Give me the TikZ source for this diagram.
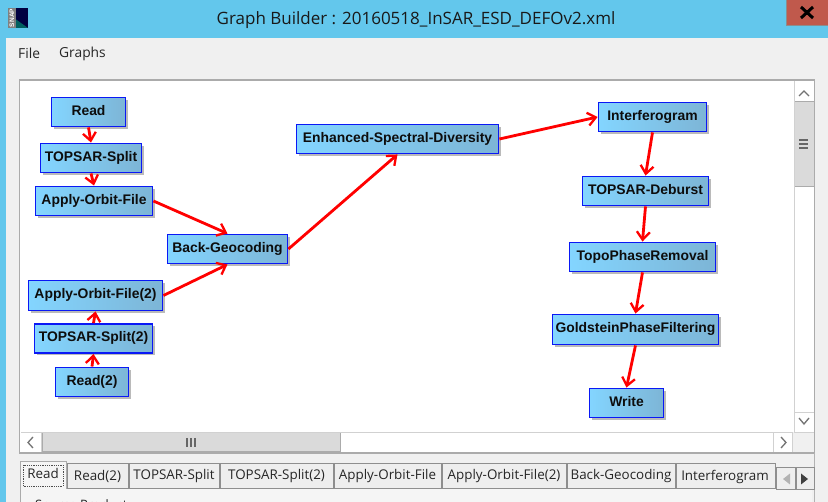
\documentclass[tikz,border=0pt]{standalone}
\usepackage{fontspec}
\setmainfont{Liberation Sans}
\newfontfamily\uifont{Open Sans}
\usetikzlibrary{arrows.meta,shadows}
\definecolor{titlebar}{HTML}{63C7EC}
\definecolor{winbg}{HTML}{F0F0F0}
\definecolor{closebtn}{HTML}{C0594C}
\definecolor{framegray}{HTML}{ABABAB}
\definecolor{thumbgray}{HTML}{DADADA}
\definecolor{tabgray}{HTML}{8E8E8E}
\definecolor{tabfill}{HTML}{EEEEEE}
\definecolor{opleft}{HTML}{83D5FF}
\definecolor{opright}{HTML}{7DB5D6}
\definecolor{opedge}{HTML}{0A18F5}
\tikzset{
  opbox/.style={draw=opedge,line width=1.9pt,left color=opleft,right color=opright,
    inner sep=0pt,text height=10pt,text depth=3.2pt,align=center,
    font=\fontsize{13.9}{15}\selectfont\bfseries,text=black!95,
    drop shadow={shadow xshift=2.4pt,shadow yshift=-2.4pt,fill=black!45,opacity=.6}},
  flow/.style={draw=red,line width=2.8pt,-{Straight Barb[length=8pt,width=13pt,line width=2.3pt]}},
  tabbox/.style={draw=tabgray,line width=1pt,fill=tabfill},
  tablabel/.style={font=\uifont\fontsize{13.4}{15}\selectfont,text=black!85,inner sep=0pt},
  uilabel/.style={font=\uifont\fontsize{13.8}{16}\selectfont,text=black!85,inner sep=0pt},
  chev/.style={draw=black!55,line width=1.3pt},
}
\begin{document}
\begin{tikzpicture}[x=1pt,y=-1pt]
\useasboundingbox (0,0) rectangle (828,502);
% window
\fill[titlebar] (0,0) rectangle (828,502);
\fill[winbg] (6,38) rectangle (828,502);
\fill[closebtn] (786,0) rectangle (828,25);
\draw[black!45,line width=.7pt] (786,0) -- (786,25) -- (828,25);
\draw[black,line width=3pt] (801,7) -- (813,18) (813,7) -- (801,18);
% app icon
\fill[black!75!blue] (8,8) rectangle (28,28);
\fill[black!25!teal] (14,28) -- (14,18) -- (28,28) -- cycle;
\fill[black!50] (8,8) rectangle (16,28);
\node[rotate=90,font=\fontsize{6.5}{6.5}\selectfont\bfseries,text=white,inner sep=0pt] (iconlabel) at (12,18) {SNAP};
\node[font=\uifont\fontsize{17}{18}\selectfont,text=black!90,inner sep=0pt] (title) at (416,20) {Graph Builder : 20160518\_InSAR\_ESD\_DEFOv2.xml};
\node[uilabel,anchor=west] (menufile) at (18,53.5) {File};
\node[uilabel,anchor=west] (menugraphs) at (59,53.5) {Graphs};
% canvas frame
\fill[white] (19,80) rectangle (815,453);
\fill[winbg] (793,432) rectangle (815,453);
\draw[framegray,line width=1.6pt] (19.5,80) rectangle (814.5,453);
% vertical scrollbar
\fill[thumbgray] (794,102) rectangle (814,187);
\draw[framegray,line width=1pt] (794,102) rectangle (814,187);
\draw[black!18,line width=.8pt] (794,81) -- (794,432) -- (814,432);
\draw[black!18,line width=.8pt] (794,412) -- (814,412);
\draw[chev] (799,96) -- (804,91) -- (809,96);
\draw[chev] (799,418) -- (804,424) -- (809,418);
\draw[black!60,line width=1.2pt] (799,140) -- (808,140) (799,144) -- (808,144) (799,148) -- (808,148);
% horizontal scrollbar
\fill[thumbgray] (42,433) rectangle (340,452);
\draw[framegray,line width=1pt] (42,433) rectangle (340,452);
\draw[black!18,line width=.8pt] (21,432.5) -- (793,432.5);
\draw[black!18,line width=.8pt] (41,433) -- (41,452) (773,433) -- (773,452) (792,433) -- (792,452);
\draw[chev] (33,437) -- (28,442.5) -- (33,448);
\draw[chev] (781,437) -- (786,442.5) -- (781,448);
\draw[black!60,line width=1.2pt] (187,438) -- (187,447) (191,438) -- (191,447) (195,438) -- (195,447);
% tabs
\fill[white!96!black] (21,489) rectangle (812,502);
\draw[black!30,line width=.8pt] (814.5,453) -- (814.5,502);
\draw[tabbox] (67,464) rectangle (128,489);
\draw[tabbox] (129,464) rectangle (219,489);
\draw[tabbox] (220,464) rectangle (333,489);
\draw[tabbox] (334,464) rectangle (441,489);
\draw[tabbox] (442,464) rectangle (566,489);
\draw[tabbox] (567,464) rectangle (675,489);
\draw[tabbox] (676,464) rectangle (775,489);
\fill[white!96!black] (20,462) rectangle (66,489);
\draw[framegray,line width=1pt] (20,502) -- (20,462) -- (66,462) -- (66,489);
\draw[black!70,line width=.8pt,densely dotted] (23,465) rectangle (63,486);
\node[tablabel] (tread) at (43,473.5) {Read};
\node[tablabel] (tread2) at (97.5,476.5) {Read(2)};
\node[tablabel] (tsplit) at (174,476.5) {TOPSAR-Split};
\node[tablabel] (tsplit2) at (276.5,476.5) {TOPSAR-Split(2)};
\node[tablabel] (torbit) at (387.5,476.5) {Apply-Orbit-File};
\node[tablabel] (torbit2) at (504,476.5) {Apply-Orbit-File(2)};
\node[tablabel] (tback) at (621,476.5) {Back-Geocoding};
\node[tablabel] (tinter) at (725,476.5) {Interferogram};
% tab arrows
\draw[tabgray,fill=tabfill,line width=1pt] (776,468) rectangle (795,490);
\draw[tabgray,fill=tabfill,line width=1pt] (796,468) rectangle (814,490);
\fill[black!30] (790,473.5) -- (783,479) -- (790,484.5) -- cycle;
\fill[black!75] (801,473.5) -- (808,479) -- (801,484.5) -- cycle;
% source product group (cut off by the page edge)
\node[tablabel,anchor=west] (srcprod) at (35,505) {\fontsize{13}{15}\selectfont Source Product};
% operators
\node[opbox,minimum width=74pt,minimum height=29pt] (read) at (88.5,112) {Read};
\node[opbox,minimum width=101pt,minimum height=29pt] (split) at (91,158) {TOPSAR-Split};
\node[opbox,minimum width=117pt,minimum height=29pt] (orbit) at (94,201) {Apply-Orbit-File};
\node[opbox,minimum width=120pt,minimum height=29pt] (back) at (227.5,249) {Back-Geocoding};
\node[opbox,minimum width=134pt,minimum height=30pt] (orbit2) at (95.5,295.5) {Apply-Orbit-File(2)};
\node[opbox,minimum width=118pt,minimum height=29pt] (split2) at (93.5,338.5) {TOPSAR-Split(2)};
\node[opbox,minimum width=73pt,minimum height=29pt] (read2) at (92,382) {Read(2)};
\node[opbox,minimum width=202pt,minimum height=29pt] (esd) at (397.5,139) {Enhanced-Spectral-Diversity};
\node[opbox,minimum width=108pt,minimum height=29pt] (inter) at (652.5,117) {Interferogram};
\node[opbox,minimum width=126pt,minimum height=29pt] (deburst) at (645.5,191) {TOPSAR-Deburst};
\node[opbox,minimum width=146pt,minimum height=29pt] (topo) at (642.5,257) {TopoPhaseRemoval};
\node[opbox,minimum width=166pt,minimum height=30pt] (gold) at (635.5,329.5) {GoldsteinPhaseFiltering};
\node[opbox,minimum width=74pt,minimum height=29pt] (write) at (626.5,403) {Write};
% connectors
\draw[flow] (read.south) -- (split.north);
\draw[flow] (split.south) -- (orbit.north);
\draw[flow] (orbit.east) -- (back.north);
\draw[flow] (read2.north) -- (split2.south);
\draw[flow] (split2.north) -- (orbit2.south);
\draw[flow] (orbit2.east) -- (back.south);
\draw[flow] (back.east) -- (esd.south);
\draw[flow] (esd.east) -- (inter.west);
\draw[flow] (inter.south) -- (deburst.north);
\draw[flow] (deburst.south) -- (topo.north);
\draw[flow] (topo.south) -- (gold.north);
\draw[flow] (gold.south) -- (write.north);
\end{tikzpicture}
\end{document}
